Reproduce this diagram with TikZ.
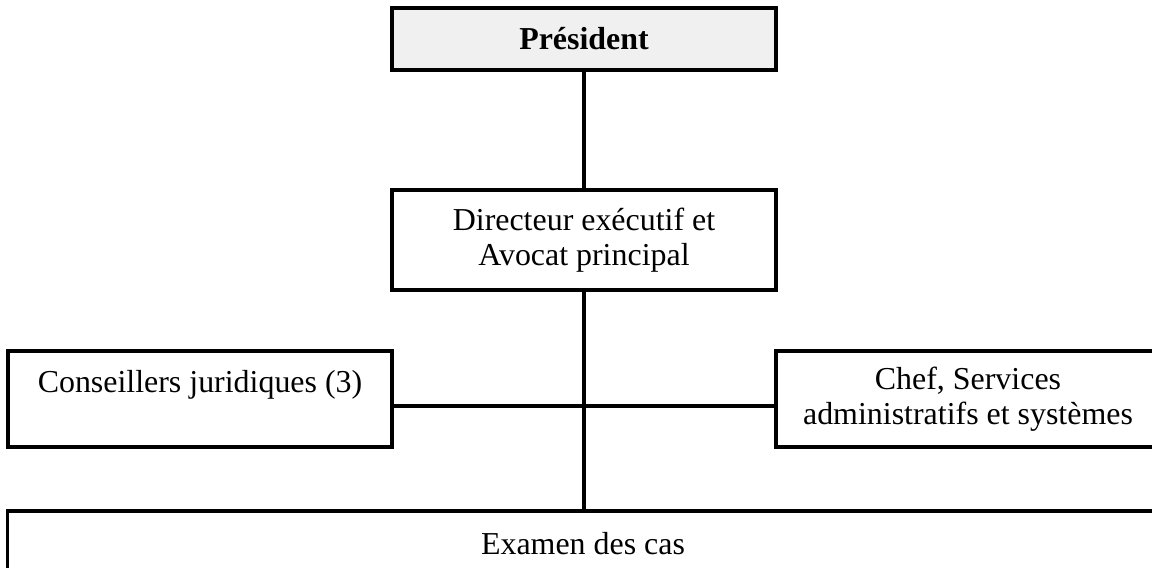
\documentclass[tikz,border=0pt]{standalone}
\usepackage{fontspec}
\setmainfont{Liberation Serif}
\usepackage{tikz}
\usetikzlibrary{positioning}
\definecolor{headgray}{HTML}{F0F0F0}
\tikzset{
    orgbox/.style={
        draw, rectangle, line width=2.3pt, inner sep=0pt, align=center,
        minimum width=9.6cm, font=\fontsize{22.7}{25}\selectfont
    },
    orghead/.style={orgbox, fill=headgray, minimum height=1.55cm,
        font=\fontsize{22.7}{25}\selectfont\bfseries},
    orglink/.style={line width=2.3pt}
}

\begin{document}
\begin{tikzpicture}[x=0.025cm, y=-0.025cm]
    \path[use as bounding box, clip] (0,0) rectangle (1152,567);

    \node[orghead] (pres) at (584,39) {Président};
    \node[orgbox, minimum height=2.5cm] (dir) at (584,240) {Directeur exécutif et\\Avocat principal};
    \node[orgbox, minimum height=2.4cm] (cons) at (200,399) {Conseillers juridiques (3)\\\mbox{}};
    \node[orgbox, minimum height=2.4cm] (chef) at (968,399) {Chef, Services\\administratifs et systèmes};
    \node[orgbox, minimum width=28.75cm, minimum height=1.65cm] (exam) at (583,544) {Examen des cas};
    \coordinate (junc) at (584,406);

    \draw[orglink] (pres) -- (dir);
    \draw[orglink] (dir) -- (exam.north -| dir);
    \draw[orglink] (cons.east |- junc) -- (chef.west |- junc);
\end{tikzpicture}
\end{document}
